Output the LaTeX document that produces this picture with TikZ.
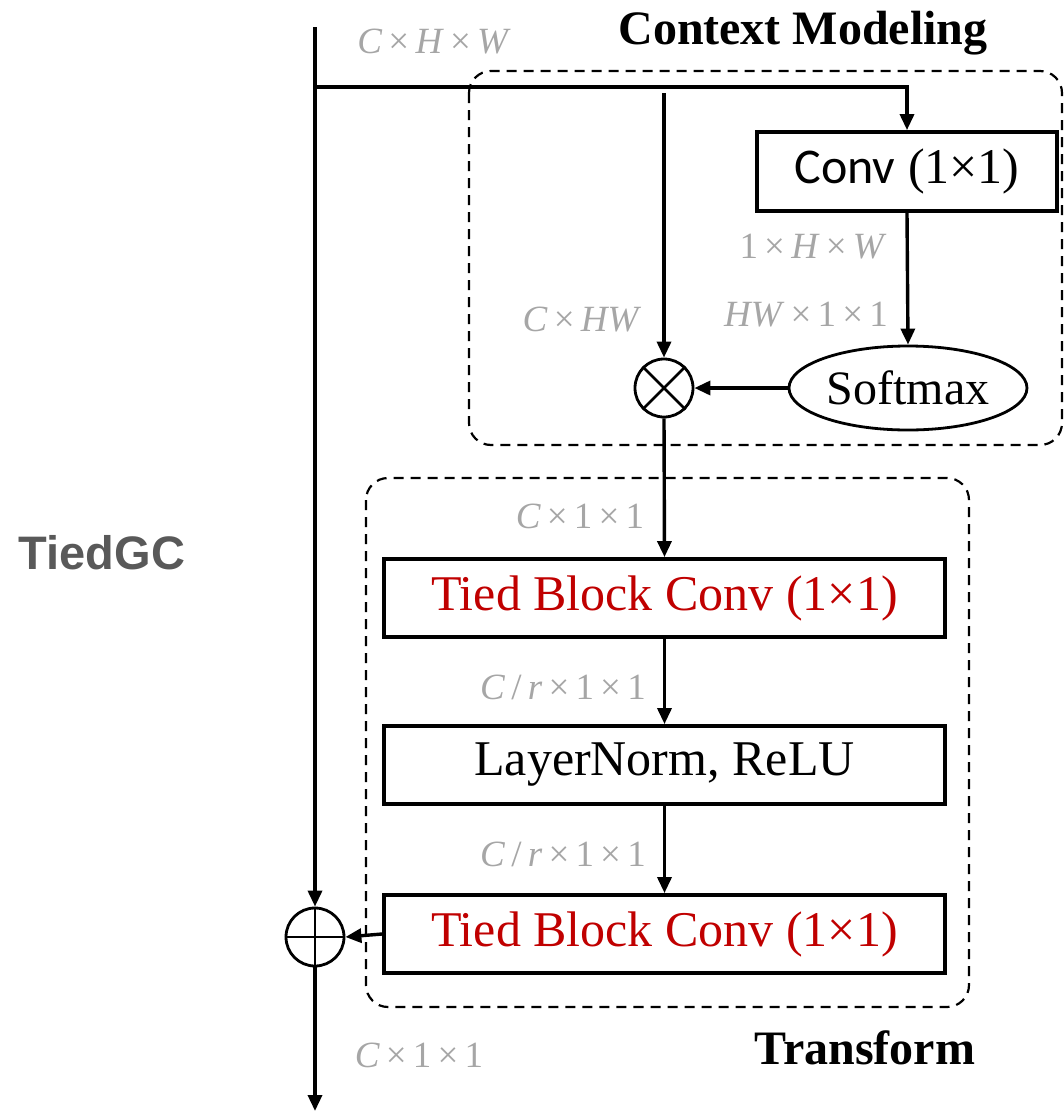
\documentclass[tikz,border=0pt]{standalone}
\usepackage{fontspec}
\setmainfont{Liberation Serif}
\newfontfamily\calfont{Carlito}
\newfontfamily\headfont{Liberation Sans}
\usetikzlibrary{arrows.meta,shapes.geometric}
\definecolor{dimgray}{HTML}{A6A6A6}
\definecolor{tiedred}{HTML}{C00000}
\definecolor{titlegray}{HTML}{595959}
\begin{document}
\begin{tikzpicture}[x=0.5pt,y=-0.5pt,
  flow/.style={line width=1.7pt,-{Triangle[length=8pt,width=7pt]}},
  opbox/.style={draw,line width=1.9pt,minimum width=280.5pt,minimum height=39pt,inner sep=0pt,
    font=\fontsize{25}{29}\selectfont},
  group/.style={draw,line width=1.1pt,dash pattern=on 5pt off 3.5pt,rounded corners=11pt},
  dimtext/.style={text=dimgray,inner sep=0pt,font=\fontsize{18.5}{20}\selectfont},
  optext/.style={circle,draw,line width=1.4pt,minimum size=29pt,inner sep=0pt},
  title/.style={inner sep=0pt,font=\fontsize{24}{28}\selectfont\bfseries}]
\useasboundingbox (0,0) rectangle (1064,1114);

% dashed groups
\draw[group] (469,71) rectangle (1062,445);
\draw[group] (366,478) rectangle (969,1007);

% operation boxes
\node[opbox,minimum width=150pt,minimum height=39.5pt] (conv) at (907,171.5)
  {{\calfont Conv} (1×1)};
\node[ellipse,draw,line width=1.4pt,minimum width=119pt,minimum height=42pt,inner sep=0pt,
  font=\fontsize{24}{28}\selectfont] (sm) at (908,388) {Softmax};
\node[opbox,text=tiedred] (b1) at (664.5,598) {Tied Block Conv (1×1)};
\node[opbox] (b2) at (664.5,765) {LayerNorm, ReLU};
\node[opbox,text=tiedred] (b3) at (664.5,934) {Tied Block Conv (1×1)};

% product and sum
\node[optext] (ot) at (664,388) {};
\draw[line width=1.4pt] (ot.north west) -- (ot.south east) (ot.north east) -- (ot.south west);
\node[optext] (op) at (315,937) {};
\draw[line width=1.4pt] (op.north) -- (op.south) (op.west) -- (op.east);

% free ends
\coordinate (in) at (315,27);
\coordinate (out) at (315,1111);
\coordinate (split) at (315,87);
\coordinate (tap) at (664,93);

% connectors
\draw[flow] (in) -- (op.north);
\draw[flow] (op.south) -- (out);
\draw[flow] (split) -| (conv.north);
\draw[flow] (tap) -- (ot.north);
\draw[flow] (conv.south) -- (sm.north);
\draw[flow] (sm.west) -- (ot.east);
\draw[flow] (ot.south) -- (b1.north);
\draw[flow] (b1.south) -- (b2.north);
\draw[flow] (b2.south) -- (b3.north);
\draw[flow] (b3.west) -- (op.east);

% shape labels
\node[dimtext] (l1) at (434,42) {\textit{C}\,×\,\textit{H}\,×\,\textit{W}};
\node[dimtext] (l2) at (813,247) {1\,×\,\textit{H}\,×\,\textit{W}};
\node[dimtext] (l3) at (806,315) {\textit{HW}\,×\,1\,×\,1};
\node[dimtext] (l4) at (582,320) {\textit{C}\,×\,\textit{HW}};
\node[dimtext] (l5) at (580,516) {\textit{C}\,×\,1\,×\,1};
\node[dimtext] (l6) at (563,687) {\textit{C}\,/\,\textit{r}\,×\,1\,×\,1};
\node[dimtext] (l7) at (563,854) {\textit{C}\,/\,\textit{r}\,×\,1\,×\,1};
\node[dimtext] (l8) at (419,1055) {\textit{C}\,×\,1\,×\,1};

% titles
\node[title] (tcm) at (803,33) {Context Modeling};
\node[title] (ttr) at (865,1048) {Transform};
\node[inner sep=0pt,text=titlegray,font=\headfont\fontsize{23.5}{28}\selectfont\bfseries] (tgc) at (102,553) {TiedGC};
\end{tikzpicture}
\end{document}
